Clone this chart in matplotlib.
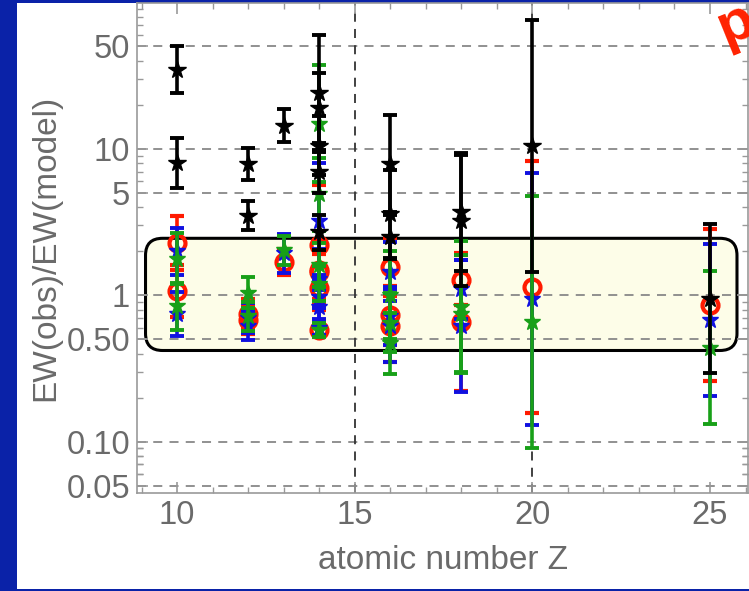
import numpy as np
import matplotlib
matplotlib.use('Agg')
import matplotlib.pyplot as plt
from matplotlib.patches import FancyBboxPatch, Rectangle
from matplotlib.transforms import IdentityTransform
from matplotlib.ticker import FixedLocator, FixedFormatter, NullFormatter

# ---- data (one entry per spectral line) ----
Z = [10, 10, 12, 12, 13, 14, 14, 14, 14, 14, 16, 16, 16, 18, 18, 20, 25]

black_v = [34.6, 8.0, 7.9, 3.5, 14.4, 24.0, 19.0, 10.5, 7.0, 2.7, 7.9, 3.6, 2.5, 3.7, 3.24, 10.4, 0.95]
black_e = [0.16, 0.17, 0.11, 0.10, 0.115, 0.40, 0.24, 0.20, 0.15, 0.12, 0.33, 0.30, 0.15, 0.40, 0.45, 0.86, 0.51]

red_v = [2.27, 1.07, 0.75, 0.68, 1.69, 2.2, 1.5, 1.13, 0.58, 1.45, 1.56, 0.73, 0.62, 1.27, 0.66, 1.14, 0.855]
red_e = [0.185, 0.18, 0.10, 0.10, 0.09, 0.41, 0.20, 0.15, 0.05, 0.12, 0.20, 0.20, 0.25, 0.17, 0.47, 0.86, 0.52]

blue_v = [2.0, 0.75, 0.70, 0.62, 1.93, 3.2, 1.3, 0.97, 0.60, 0.83, 1.45, 0.72, 0.62, 1.1, 0.62, 0.95, 0.68]
blue_e = [0.16, 0.15, 0.10, 0.10, 0.13, 0.40, 0.20, 0.15, 0.05, 0.12, 0.20, 0.20, 0.25, 0.20, 0.45, 0.86, 0.52]

green_v = [1.78, 0.84, 1.04, 0.72, 2.03, 14.8, 4.9, 1.6, 0.58, 1.2, 1.0, 0.65, 0.47, 0.83, 0.75, 0.66, 0.44]
green_e = [0.175, 0.16, 0.107, 0.10, 0.10, 0.40, 0.25, 0.15, 0.05, 0.12, 0.30, 0.20, 0.21, 0.45, 0.40, 0.86, 0.52]

ytick_vals = [0.05, 0.10, 0.50, 1, 5, 10, 50]
ytick_labels = ['0.05', '0.10', '0.50', '1', '5', '10', '50']
xtick_vals = [10, 15, 20, 25]
box_x = (9.11, 25.76)
box_y = (0.42, 2.45)

plt.rcParams['font.family'] = ['Liberation Sans', 'DejaVu Sans']

fig = plt.figure(figsize=(7.49, 5.91), dpi=100)
fig.patch.set_facecolor('#0A22A8')
fig.add_artist(Rectangle((17 / 749, 2 / 591), (749 - 17) / 749, (588 - 2) / 591,
                         transform=fig.transFigure, facecolor='white', edgecolor='none', zorder=0))

ax = fig.add_axes([137 / 749, (591 - 493) / 591, (748 - 137) / 749, (493 - 3) / 591])
ax.set_facecolor('white')
ax.set_yscale('log')
ax.set_xlim(8.87, 26.07)
ax.set_ylim(0.0447, 99)

gray = '#999999'
for s in ax.spines.values():
    s.set_color(gray)
    s.set_linewidth(1.2)

# grid
for yv in ytick_vals:
    ax.axhline(yv, color='#888888', lw=1.3, ls=(0, (5, 4)), zorder=1)
for xv in [15, 20]:
    ax.axvline(xv, color='#333333', lw=1.3, ls=(0, (5, 4)), zorder=1)

# ticks
ax.yaxis.set_major_locator(FixedLocator(ytick_vals))
ax.yaxis.set_major_formatter(FixedFormatter(ytick_labels))
minors = []
for dec in [0.01, 0.1, 1, 10]:
    for m in [2, 3, 4, 6, 7, 8, 9]:
        minors.append(dec * m)
minors += [0.06, 0.07, 0.08, 0.09]
ax.yaxis.set_minor_locator(FixedLocator(minors))
ax.yaxis.set_minor_formatter(NullFormatter())
ax.xaxis.set_major_locator(FixedLocator(xtick_vals))
ax.xaxis.set_minor_locator(FixedLocator(list(range(9, 27))))
ax.tick_params(which='both', direction='in', top=True, right=True, color=gray)
ax.tick_params(which='major', length=8, width=1.2, labelsize=23.5, labelcolor='#6A6A6A', pad=5)
ax.tick_params(which='minor', length=4, width=1.0)

ax.set_xlabel('atomic number Z', fontsize=24, color='#6A6A6A', labelpad=10)
ax.set_ylabel('EW(obs)/EW(model)', fontsize=24, color='#6A6A6A', labelpad=4)

# rounded box
fig.canvas.draw()
p0 = ax.transData.transform((box_x[0], box_y[0]))
p1 = ax.transData.transform((box_x[1], box_y[1]))
box = FancyBboxPatch((p0[0], p0[1]), p1[0] - p0[0], p1[1] - p0[1],
                     boxstyle='round,pad=0,rounding_size=17', transform=IdentityTransform(),
                     facecolor='#FDFDE8', edgecolor='black', lw=2.2, zorder=0.8)
ax.add_artist(box)


def errs(v, d):
    v = np.asarray(v, float)
    d = np.asarray(d, float)
    return [v - v / 10 ** d, v * 10 ** d - v]


common = dict(elinewidth=2.6, capsize=5, capthick=2.8, ls='none')
ax.errorbar(Z, red_v, yerr=errs(red_v, red_e), fmt='o', color='#FF1A00', ms=11.5,
            mfc='none', mew=3.0, zorder=3, **common)
ax.errorbar(Z, blue_v, yerr=errs(blue_v, blue_e), fmt='*', color='#1010E0', ms=12,
            zorder=4, **common)
ax.errorbar(Z, green_v, yerr=errs(green_v, green_e), fmt='*', color='#18A018', ms=12,
            zorder=5, **common)
ax.errorbar(Z, black_v, yerr=errs(black_v, black_e), fmt='*', color='black', ms=13,
            zorder=6, **common)

fig.text(736 / 749, 1 - 24 / 591, 'p', color='#FF2200', fontsize=42, fontweight='bold',
         rotation=22, ha='center', va='center')

fig.savefig('out.png', dpi=100, facecolor=fig.get_facecolor())
